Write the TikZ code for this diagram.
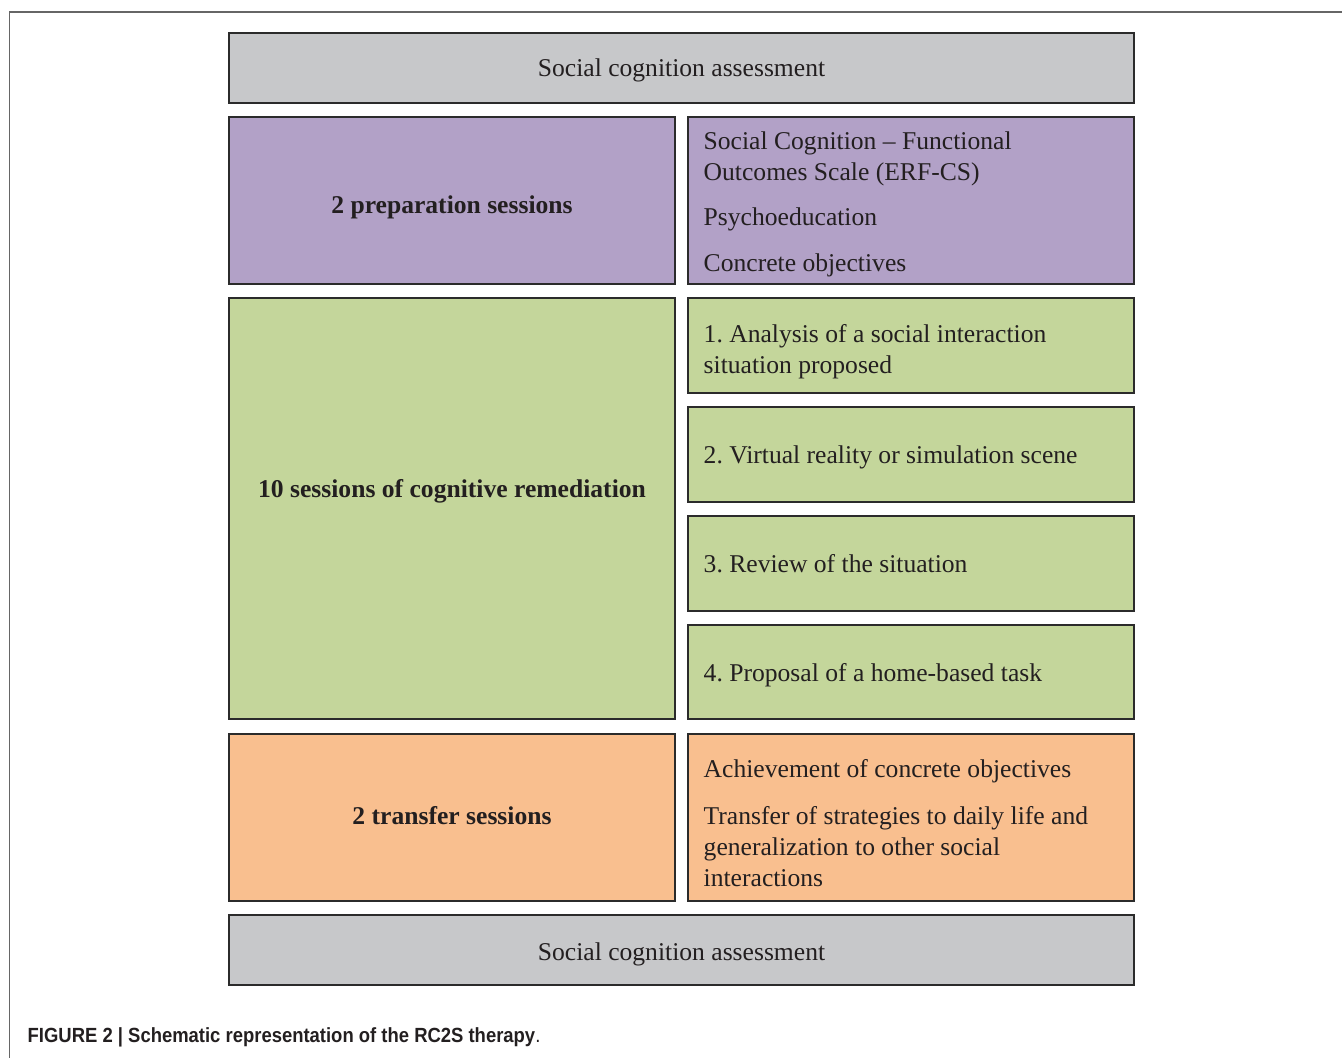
\documentclass[tikz,border=0pt]{standalone}
\usepackage{fontspec}
\setmainfont{Liberation Serif}
\newfontfamily\capfont[FakeStretch=0.9]{Liberation Sans}
\usetikzlibrary{positioning}
\frenchspacing
\definecolor{boxline}{HTML}{2B2B2B}
\definecolor{inkdark}{HTML}{231F20}
\definecolor{assessgray}{HTML}{C7C8CA}
\definecolor{prepviolet}{HTML}{B2A1C7}
\definecolor{remedgreen}{HTML}{C4D69B}
\definecolor{transorange}{HTML}{F9BF8F}
\tikzset{
  cell/.style={draw=boxline, line width=0.6pt, inner sep=0pt, rectangle},
  wide/.style={cell, minimum width=9.05cm, minimum height=0.70cm},
  half/.style={cell, minimum width=4.46cm},
  txt/.style={inner sep=0pt, text=inkdark, font=\fontsize{7.28pt}{8.8pt}\selectfont},
  bold txt/.style={txt, font=\fontsize{7.28pt}{8.8pt}\selectfont\bfseries}
}

\begin{document}
\begin{tikzpicture}[x=0.01cm, y=-0.01cm]
  \useasboundingbox (0,0) rectangle (1342,1058);
  % page frame
  \draw[gray!80!black, line width=0.4pt] (9.5,1058) -- (9.5,12) -- (1342,12);

  % assessment before
  \node[wide, fill=assessgray] (pre) at (681.5,68) {};
  \node[txt, anchor=base] (pretxt) at (681.5,77) {Social cognition assessment};

  % preparation
  \node[half, fill=prepviolet, minimum height=1.67cm] (prep) at (452,200.5) {};
  \node[half, fill=prepviolet, minimum height=1.67cm] (prepitems) at (911,200.5) {};
  \node[bold txt, anchor=base] (preptxt) at (452,214) {2 preparation sessions};
  \node[txt, anchor=base west] (prep1a) at (703,150) {Social Cognition -- Functional};
  \node[txt, anchor=base west] (prep1b) at (703,181) {Outcomes Scale (ERF-CS)};
  \node[txt, anchor=base west] (prep2) at (703,226) {Psychoeducation};
  \node[txt, anchor=base west] (prep3) at (703,272) {Concrete objectives};

  % remediation
  \node[half, fill=remedgreen, minimum height=4.21cm] (remed) at (452,508.5) {};
  \node[bold txt, anchor=base] (remedtxt) at (452,498) {10 sessions of cognitive remediation};
  \node[half, fill=remedgreen, minimum height=0.95cm] (stepone) at (911,345.5) {};
  \node[half, fill=remedgreen, minimum height=0.95cm] (steptwo) at (911,454.5) {};
  \node[half, fill=remedgreen, minimum height=0.95cm] (stepthree) at (911,563.5) {};
  \node[half, fill=remedgreen, minimum height=0.94cm] (stepfour) at (911,672) {};
  \node[txt, anchor=base west] (step1a) at (703,343) {1. Analysis of a social interaction};
  \node[txt, anchor=base west] (step1b) at (703,374) {situation proposed};
  \node[txt, anchor=base west] (step2) at (703,464) {2. Virtual reality or simulation scene};
  \node[txt, anchor=base west] (step3) at (703,573) {3. Review of the situation};
  \node[txt, anchor=base west] (step4) at (703,682) {4. Proposal of a home-based task};

  % transfer
  \node[half, fill=transorange, minimum height=1.67cm] (trans) at (452,817.5) {};
  \node[half, fill=transorange, minimum height=1.67cm] (transitems) at (911,817.5) {};
  \node[bold txt, anchor=base] (transtxt) at (452,824) {2 transfer sessions};
  \node[txt, anchor=base west] (trans1) at (703,777) {Achievement of concrete objectives};
  \node[txt, anchor=base west] (trans2a) at (703,824) {Transfer of strategies to daily life and};
  \node[txt, anchor=base west] (trans2b) at (703,855) {generalization to other social};
  \node[txt, anchor=base west] (trans2c) at (703,886) {interactions};

  % assessment after
  \node[wide, fill=assessgray] (post) at (681.5,950) {};
  \node[txt, anchor=base] (posttxt) at (681.5,960) {Social cognition assessment};

  % caption
  \node[inner sep=0pt, anchor=base west, text=inkdark, font=\capfont\fontsize{5.83pt}{7pt}\selectfont] (caption) at (27,1042)
    {\textbf{FIGURE 2 | Schematic representation of the RC2S therapy}.};
\end{tikzpicture}
\end{document}
